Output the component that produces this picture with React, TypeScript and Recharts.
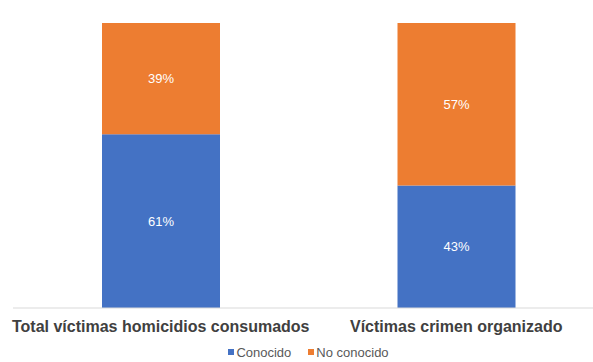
import React from 'react';
import { BarChart, Bar, XAxis, YAxis, LabelList, Legend } from 'recharts';

const categories = ['Total víctimas homicidios consumados', 'Víctimas crimen organizado'];
const conocido = [61, 43];
const noConocido = [39, 57];

const data = categories.map((name, i) => ({
  name,
  conocido: conocido[i],
  noConocido: noConocido[i],
}));

const BLUE = '#4472C4';
const ORANGE = '#ED7D31';
const FONT = '"Liberation Sans", Arial, sans-serif';

const CategoryTick = (props: any) => {
  const { x, y, payload } = props;
  return (
    <text
      x={x}
      y={y + 16}
      textAnchor="middle"
      fill="#404040"
      fontSize={16}
      fontWeight="bold"
      fontFamily={FONT}
    >
      {payload.value}
    </text>
  );
};

const LegendContent = () => (
  <div
    style={{
      display: 'flex',
      justifyContent: 'center',
      alignItems: 'center',
      height: 20,
      fontFamily: FONT,
      fontSize: 13,
      color: '#595959',
    }}
  >
    <span style={{ display: 'flex', alignItems: 'center', marginRight: 17 }}>
      <span style={{ width: 6, height: 6, background: BLUE, marginRight: 2, display: 'inline-block' }} />
      Conocido
    </span>
    <span style={{ display: 'flex', alignItems: 'center' }}>
      <span style={{ width: 6, height: 6, background: ORANGE, marginRight: 2, display: 'inline-block' }} />
      No conocido
    </span>
  </div>
);

const App: React.FC = () => {
  return (
    <div style={{ position: 'absolute', left: 0, top: 0, width: 593, height: 362, overflow: 'hidden', background: '#fff' }}>
      <BarChart
        width={604}
        height={362}
        data={data}
        margin={{ top: 23, right: 0, bottom: 0, left: 13 }}
        barCategoryGap="30%"
      >
        <XAxis
          dataKey="name"
          tick={<CategoryTick />}
          tickLine={false}
          axisLine={{ stroke: '#d9d9d9' }}
          height={34}
          interval={0}
        />
        <YAxis hide domain={[0, 100]} />
        <Legend
          verticalAlign="bottom"
          content={<LegendContent />}
          wrapperStyle={{ left: 13, width: 591, bottom: 0, height: 20 }}
        />
        <Bar dataKey="conocido" stackId="a" fill={BLUE} barSize={118} isAnimationActive={false}>
          <LabelList
            dataKey="conocido"
            position="center"
            formatter={(v: any) => `${v}%`}
            fill="#ffffff"
            fontSize={13}
            fontFamily={FONT}
          />
        </Bar>
        <Bar dataKey="noConocido" stackId="a" fill={ORANGE} barSize={118} isAnimationActive={false}>
          <LabelList
            dataKey="noConocido"
            position="center"
            formatter={(v: any) => `${v}%`}
            fill="#ffffff"
            fontSize={13}
            fontFamily={FONT}
          />
        </Bar>
      </BarChart>
    </div>
  );
};

export default App;
